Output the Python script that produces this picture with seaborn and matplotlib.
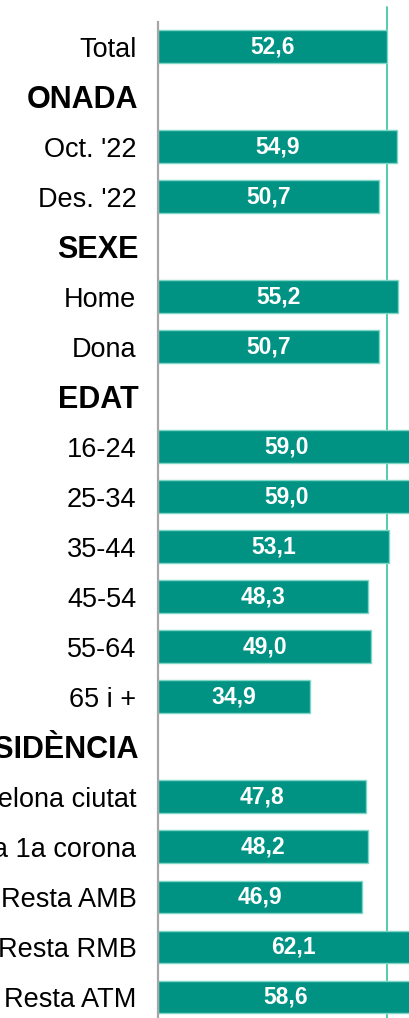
import numpy as np
import pandas as pd
import matplotlib
matplotlib.use('Agg')
import matplotlib.pyplot as plt
import matplotlib.transforms as mtransforms
import seaborn as sns

# categories (header rows have no value)
labels = ['Total', 'ONADA', "Oct. '22", "Des. '22", 'SEXE', 'Home', 'Dona',
          'EDAT', '16-24', '25-34', '35-44', '45-54', '55-64', '65 i +',
          'RESIDÈNCIA', 'Barcelona ciutat', 'Resta 1a corona', 'Resta AMB',
          'Resta RMB', 'Resta ATM']
values = [52.6, np.nan, 54.9, 50.7, np.nan, 55.2, 50.7,
          np.nan, 59.0, 59.0, 53.1, 48.3, 49.0, 34.9,
          np.nan, 47.8, 48.2, 46.9, 62.1, 58.6]
headers = ['ONADA', 'SEXE', 'EDAT', 'RESIDÈNCIA']
mean_value = 52.6

df = pd.DataFrame({'cat': labels, 'val': values})

sns.set_style('white')
plt.rcParams['font.family'] = ['Liberation Sans', 'DejaVu Sans']

fig = plt.figure(figsize=(4.09, 10.18), dpi=100)
ax = fig.add_axes([158 / 409, -4 / 1018, 251 / 409, 1000 / 1018])

sns.barplot(data=df, y='cat', x='val', order=labels, orient='h',
            color='#009384', saturation=1, edgecolor='#7fd6c6', linewidth=1,
            width=0.66, ax=ax)

ax.set_xlim(0, 57.7)
ax.set_ylim(len(labels) - 0.5, -0.5)

for i, v in enumerate(values):
    if not np.isnan(v):
        ax.text(v / 2, i, f'{v:.1f}'.replace('.', ','), ha='center', va='center',
                color='white', fontsize=16.5, fontweight='bold', clip_on=False)

ax.axvline(mean_value, ymin=0, ymax=1.015, color='#44c9a3', linewidth=1.3,
           clip_on=False, zorder=0)

ax.set_xlabel('')
ax.set_ylabel('')
ax.set_xticks([])
ax.tick_params(axis='y', length=0, pad=15.5)
shift = mtransforms.ScaledTranslation(2 / 100, 0, fig.dpi_scale_trans)
for t in ax.get_yticklabels():
    t.set_color('black')
    if t.get_text() in headers:
        t.set_fontweight('bold')
        t.set_fontsize(22)
        t.set_transform(t.get_transform() + shift)
    else:
        t.set_fontsize(19.5)
for s in ['top', 'right', 'bottom']:
    ax.spines[s].set_visible(False)
ax.spines['left'].set_color('#a6a6a6')
ax.spines['left'].set_linewidth(1.6)

fig.savefig('out.png', dpi=100)
